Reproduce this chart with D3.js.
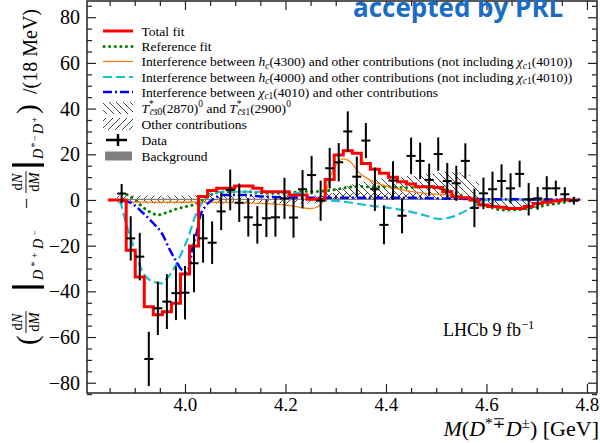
<!DOCTYPE html>
<html><head><meta charset="utf-8">
<script src="https://cdn.jsdelivr.net/npm/d3@7"></script>
<style>
body{margin:0;background:#fff;}
svg{display:block;}
text{font-family:"Liberation Serif","DejaVu Serif",serif;}
</style></head><body>
<svg id="chart" width="600" height="443"></svg>
<script>
// ---------------- data ----------------
const firstBinCenter = 3.874;   // GeV, first data bin
const binWidth = 0.018;         // 18 MeV
const dataValues = [2.8, -16.8, -24.8, -69.6, -47.4, -44.5, -40.8, -40.6, -27.7, -16.8,
  -18.7, -5.0, 4.4, -1.2, -7.6, -10.9, -8.0, -7.6, 0.7, -7.7,
  4.7, 10.9, -0.3, 13.9, 16.5, 30.0, 10.2, 26.0, 4.7, -10.9,
  8.5, -6.9, 19.3, 17.1, 8.8, 20.1, 8.3, 7.3, 17.1, -3.5,
  2.9, 4.7, 8.3, 5.1, 11.4, 0.3, 0.7, 5.1, 5.1, 2.5, -0.3];
const dataErrors = [4.2, 9.7, 10.4, 11.9, 11.7, 12.0, 11.8, 11.7, 12.7, 10.6,
  9.3, 8.2, 8.9, 8.4, 8.4, 8.2, 8.2, 8.5, 9.0, 8.8,
  8.4, 8.4, 8.8, 8.9, 8.4, 8.8, 8.8, 7.7, 9.5, 8.5,
  8.4, 7.7, 8.0, 8.0, 7.1, 7.3, 7.9, 7.7, 7.7, 8.4,
  6.9, 7.7, 7.3, 6.6, 5.8, 7.1, 5.0, 5.3, 3.4, 3.1, 1.7];

// total fit histogram (starts one bin before the first data bin)
const fitFirstCenter = 3.856;
const totalFit = [0,
  0, -22, -33.7, -46.7, -50.3, -48.9, -45.2, -32.4, -20.1, 1.5,
  4.1, 5.1, 5.1, 6.1, 6.1, 5.1, 3.6, 3.6, 3.6, 2.2,
  2.2, 0.3, 0.3, 9.0, 19.7, 21.6, 20.4, 16.0, 13.4, 11.7,
  9.9, 8.0, 7.0, 5.8, 5.8, 5.5, 3.6, 1.4, 1.0, 0,
  -2.2, -2.9, -3.2, -3.7, -3.7, -2.9, -1.5, -1.0, -0.4, 0, 0];

// reference fit, at the data bin centres
const referenceFit = [3, 1.5, -2, -5, -6.5, -5.5, -4, -3, -2, 0,
  2.5, 3.5, 3.6, 3.6, 3.6, 3.2, 2.9, 2.9, 3.0, 3.3,
  3.8, 3.6, 3.8, 4.2, 4.8, 5.5, 6.0, 5.8, 5.8, 5.8,
  5.7, 5.5, 5.5, 5.8, 6.0, 5.2, 4.2, 2.9, 1.0, -0.5,
  -2.2, -3.5, -4.4, -4.4, -4.2, -3.6, -3.0, -2.2, -1.6, -1.0, 0];

// interference h_c(4300)
const hc4300Mass = [3.865, 3.880, 3.950, 4.050, 4.150, 4.200, 4.230, 4.250, 4.262, 4.272, 4.280, 4.289, 4.300, 4.315, 4.330, 4.345, 4.360, 4.375, 4.410, 4.440, 4.480, 4.520, 4.560, 4.610, 4.700, 4.790];
const hc4300Val  = [0, -0.8, -1.0, -1.0, -1.5, -2.2, -3.2, -3.8, -3.2, -1.5, 3.0, 10.0, 15.0, 18.0, 16.5, 12.3, 9.8, 8.0, 5.5, 4.1, 2.9, 2.2, 1.2, 0.3, 0.0, 0.0];

// interference h_c(4000)
const hc4000Mass = [3.871, 3.881, 3.891, 3.904, 3.917, 3.937, 3.954, 3.967, 3.980, 3.993, 4.007, 4.020, 4.033, 4.046, 4.060, 4.076, 4.143, 4.229, 4.255, 4.314, 4.368, 4.408, 4.448, 4.478, 4.507, 4.533, 4.561, 4.581, 4.601, 4.687, 4.786];
const hc4000Val  = [0, -8.8, -16, -24.8, -32, -35.8, -36.5, -33.6, -29.2, -23.3, -16, -7.3, -1.5, 2.2, 3.2, 3.6, 3.6, 2.9, 0.3, -0.7, -2.5, -3.5, -5.1, -6.8, -8.3, -7.3, -4.5, -2.0, 0, 0, 0];

// interference chi_c1(4010)
const chi4010Mass = [3.877, 3.894, 3.917, 3.937, 3.954, 3.970, 3.983, 3.993, 4.002, 4.009, 4.014, 4.023, 4.030, 4.040, 4.050, 4.063, 4.076, 4.115, 4.163, 4.255, 4.428, 4.547, 4.627, 4.786];
const chi4010Val  = [0, -1.5, -5.8, -10.2, -14.6, -21.9, -27, -30.5, -31.5, -29, -22, -14.6, -7.3, -2.9, -0.7, 1.2, 2.2, 2.2, 1.4, 1.0, 1.0, 0.5, 0.3, 0.2];

// hatched contributions, at the data bin centres
const tcsValues = [-1.5, -1.5, -1.5, -1.5, -1.5, 2, 2, 2, 2, 2,
  2, 2, 2, 2, 2, 2, 2, 2, 2, 2,
  2, 2, 2, 3, 5, 6, 7, 8, 9, 9.5,
  10, 10, 10.5, 11, 11.5, 12, 12.4, 12, 11, 8,
  -1, -2, -3, -3.5, -3.5, -3, -2, -1, -0.5, 0, 0];
const otherValues = [2, 2, 2, 2, 2, -1.5, -1.5, -1.5, -1.5, -1.5,
  -1.5, -1.5, -1.5, -1.5, -1.5, -1.5, -1.5, -1.5, -1.5, -1.5,
  -1.5, -1.5, -1.5, 3, 3, 3, 3, 3, 3, 3,
  3, 3, 3, 3, 0.5, 0.5, 0.5, 0.5, 0.5, 0.5,
  0.5, 0.5, 0.5, 0.5, 0.5, 0.5, 0.5, 0.5, 0.5, 0.5, 0.5];
const backgroundValues = [0.4, 0.4, 0.5, 0.5, 0.5, 0.5, 0.5, 0.5, 0.5, 0.5,
  0.5, 0.5, 0.5, 0.5, 0.5, 0.5, 0.5, 0.5, 0.5, 0.5,
  0.5, 0.5, 0.5, 0.5, 0.5, 0.5, 0.5, 0.5, 0.5, 0.5,
  0.5, 0.5, 0.5, 0.5, 0.5, 0.5, 0.5, 0.5, 0.5, 0.5,
  0.5, 0.5, 0.5, 0.5, 0.5, 0.5, 0.5, 0.5, 0.4, 0.4, 0.4];

const xMajorTicks = [4.0, 4.2, 4.4, 4.6, 4.8];
const xMinorTicks = [3.85, 3.9, 3.95, 4.05, 4.1, 4.15, 4.25, 4.3, 4.35, 4.45, 4.5, 4.55, 4.65, 4.7, 4.75];
const yMajorTicks = [-80, -60, -40, -20, 0, 20, 40, 60, 80];
const yMinorTicks = [-85, -75, -70, -65, -55, -50, -45, -35, -30, -25, -15, -10, -5, 5, 10, 15, 25, 30, 35, 45, 50, 55, 65, 70, 75, 85];

// ---------------- layout ----------------
const svg = d3.select("#chart");
const L = 87, R = 597, T = 1, B = 393;
const x = d3.scaleLinear().domain([3.805, 4.820]).range([L, R]);
const y = d3.scaleLinear().domain([-84.5, 87.1]).range([B, T]);

const defs = svg.append("defs");
defs.append("clipPath").attr("id", "plotclip").append("rect")
  .attr("x", L).attr("y", T).attr("width", R - L).attr("height", B - T);
function hatch(id, d) {
  defs.append("pattern").attr("id", id).attr("patternUnits", "userSpaceOnUse")
    .attr("width", 7).attr("height", 7)
    .append("path").attr("d", d).attr("stroke", "#111").attr("stroke-width", 0.8).attr("fill", "none");
}
hatch("hBack", "M-1,-1 L8,8 M-1,6 L1,8 M6,-1 L8,1");
hatch("hSlash", "M-1,8 L8,-1 M-1,1 L1,-1 M6,8 L8,6");

const plot = svg.append("g").attr("clip-path", "url(#plotclip)");

function stepPts(vals, c0) {
  const pts = [];
  vals.forEach((v, i) => {
    const c = c0 + i * binWidth;
    pts.push([c - binWidth / 2, v], [c + binWidth / 2, v]);
  });
  return pts;
}
const stepLine = d3.line().x(d => x(d[0])).y(d => y(d[1]));
const stepArea = d3.area().x(d => x(d[0])).y0(y(0)).y1(d => y(d[1]));
const binCenters = dataValues.map((v, i) => firstBinCenter + i * binWidth);

// hatched areas
plot.append("path").attr("d", stepArea(stepPts(tcsValues, firstBinCenter))).attr("fill", "url(#hBack)");
plot.append("path").attr("d", stepArea(stepPts(otherValues, firstBinCenter))).attr("fill", "url(#hSlash)");
// background
plot.append("path").attr("d", stepArea(stepPts(backgroundValues, firstBinCenter))).attr("fill", "#808080");

const smooth = d3.line().x(d => x(d[0])).y(d => y(d[1])).curve(d3.curveMonotoneX);

// reference fit (green dotted)
plot.append("path").attr("d", smooth(binCenters.map((m, i) => [m, referenceFit[i]])))
  .attr("fill", "none").attr("stroke", "#008000").attr("stroke-width", 3)
  .attr("stroke-linecap", "round").attr("stroke-dasharray", "0.1,5.5");
// h_c(4300) orange
plot.append("path").attr("d", smooth(hc4300Mass.map((m, i) => [m, hc4300Val[i]])))
  .attr("fill", "none").attr("stroke", "#ff7f0e").attr("stroke-width", 1.3);
// h_c(4000) cyan dashed
plot.append("path").attr("d", smooth(hc4000Mass.map((m, i) => [m, hc4000Val[i]])))
  .attr("fill", "none").attr("stroke", "#17becf").attr("stroke-width", 2.2).attr("stroke-dasharray", "9,4");
// chi_c1(4010) blue dash-dot
plot.append("path").attr("d", smooth(chi4010Mass.map((m, i) => [m, chi4010Val[i]])))
  .attr("fill", "none").attr("stroke", "#0000ff").attr("stroke-width", 2.5).attr("stroke-dasharray", "9,3,2,3");
// total fit red step
plot.append("path").attr("d", stepLine(stepPts(totalFit, fitFirstCenter)))
  .attr("fill", "none").attr("stroke", "#ff0000").attr("stroke-width", 3);

// data points
const pts = plot.append("g").attr("stroke", "#000").attr("stroke-width", 2);
dataValues.forEach((v, i) => {
  const m = binCenters[i];
  pts.append("line").attr("x1", x(m)).attr("x2", x(m)).attr("y1", y(v - dataErrors[i])).attr("y2", y(v + dataErrors[i]));
  pts.append("line").attr("x1", x(m - binWidth / 2)).attr("x2", x(m + binWidth / 2)).attr("y1", y(v)).attr("y2", y(v));
});

// ---------------- axes ----------------
const axisColor = "#222";
function styleAxis(g, size) {
  g.select(".domain").remove();
  g.selectAll(".tick line").attr("stroke", axisColor).attr("stroke-width", 1.2);
  g.selectAll(".tick text").style("font-family", "'Liberation Serif', serif").style("font-size", size + "px").style("fill", "#000");
}
svg.append("g").attr("transform", `translate(0,${B})`)
  .call(d3.axisBottom(x).tickValues(xMajorTicks).tickSize(-9).tickPadding(5).tickFormat(d3.format(".1f"))).call(g => styleAxis(g, 19));
svg.append("g").attr("transform", `translate(0,${B})`)
  .call(d3.axisBottom(x).tickValues(xMinorTicks).tickSize(-5).tickFormat("")).call(g => styleAxis(g, 0));
svg.append("g").attr("transform", `translate(0,${T})`)
  .call(d3.axisTop(x).tickValues(xMajorTicks).tickSize(-9).tickFormat("")).call(g => styleAxis(g, 0));
svg.append("g").attr("transform", `translate(0,${T})`)
  .call(d3.axisTop(x).tickValues(xMinorTicks).tickSize(-5).tickFormat("")).call(g => styleAxis(g, 0));
svg.append("g").attr("transform", `translate(${L},0)`)
  .call(d3.axisLeft(y).tickValues(yMajorTicks).tickSize(-9).tickPadding(7).tickFormat(d3.format("d"))).call(g => styleAxis(g, 20));
svg.append("g").attr("transform", `translate(${L},0)`)
  .call(d3.axisLeft(y).tickValues(yMinorTicks).tickSize(-5).tickFormat("")).call(g => styleAxis(g, 0));
svg.append("g").attr("transform", `translate(${R},0)`)
  .call(d3.axisRight(y).tickValues(yMajorTicks).tickSize(-9).tickFormat("")).call(g => styleAxis(g, 0));
svg.append("g").attr("transform", `translate(${R},0)`)
  .call(d3.axisRight(y).tickValues(yMinorTicks).tickSize(-5).tickFormat("")).call(g => styleAxis(g, 0));
svg.append("rect").attr("x", L).attr("y", T).attr("width", R - L).attr("height", B - T)
  .attr("fill", "none").attr("stroke", axisColor).attr("stroke-width", 1.5);

// ---------------- rich text helper ----------------
function rich(parent, xPos, yPos, size, pieces, anchor) {
  const t = parent.append("text").attr("x", xPos).attr("y", yPos).attr("font-size", size).style("fill", "#000");
  if (anchor) t.attr("text-anchor", anchor);
  let cur = 0;
  pieces.forEach(p => {
    const shift = p.sub ? size * 0.22 : (p.sup ? -size * 0.38 : 0);
    const ts = t.append("tspan").text(p.t).attr("dy", shift - cur);
    cur = shift;
    if (p.sub || p.sup) ts.attr("font-size", size * 0.7);
    if (p.i) ts.attr("font-style", "italic");
    if (p.dx) ts.attr("dx", p.dx);
  });
  return t;
}

// ---------------- legend ----------------
const rows = [31, 46.5, 61.5, 77, 92, 108, 124, 140, 156];
const lg = svg.append("g");
const hx0 = 103, hx1 = 133, tx = 141.5, fs = 13.5;
lg.append("line").attr("x1", hx0).attr("x2", hx1).attr("y1", rows[0]).attr("y2", rows[0]).attr("stroke", "#ff0000").attr("stroke-width", 3);
lg.append("line").attr("x1", hx0 + 1).attr("x2", hx1).attr("y1", rows[1]).attr("y2", rows[1]).attr("stroke", "#008000").attr("stroke-width", 3).attr("stroke-linecap", "round").attr("stroke-dasharray", "0.1,5.5");
lg.append("line").attr("x1", hx0).attr("x2", hx1).attr("y1", rows[2]).attr("y2", rows[2]).attr("stroke", "#ff7f0e").attr("stroke-width", 1.3);
lg.append("line").attr("x1", hx0).attr("x2", hx1).attr("y1", rows[3]).attr("y2", rows[3]).attr("stroke", "#17becf").attr("stroke-width", 2.2).attr("stroke-dasharray", "9,4");
lg.append("line").attr("x1", hx0).attr("x2", hx1).attr("y1", rows[4]).attr("y2", rows[4]).attr("stroke", "#0000ff").attr("stroke-width", 2.5).attr("stroke-dasharray", "9,3,2,3");
lg.append("rect").attr("x", hx0).attr("y", rows[5] - 6).attr("width", 30).attr("height", 12).attr("fill", "url(#hBack)");
lg.append("rect").attr("x", hx0).attr("y", rows[6] - 6).attr("width", 30).attr("height", 12).attr("fill", "url(#hSlash)");
lg.append("line").attr("x1", hx0 + 3).attr("x2", hx1 - 6).attr("y1", rows[7]).attr("y2", rows[7]).attr("stroke", "#000").attr("stroke-width", 2.5);
lg.append("line").attr("x1", 118).attr("x2", 118).attr("y1", rows[7] - 6).attr("y2", rows[7] + 6).attr("stroke", "#000").attr("stroke-width", 2.5);
lg.append("rect").attr("x", hx0 + 2).attr("y", rows[8] - 4.5).attr("width", 27).attr("height", 9).attr("fill", "#808080");

const legendTexts = [
  [{t: "Total fit"}],
  [{t: "Reference fit"}],
  [{t: "Interference between "}, {t: "h", i: 1}, {t: "c", i: 1, sub: 1}, {t: "(4300) and other contributions (not including "}, {t: "χ", i: 1}, {t: "c", i: 1, sub: 1}, {t: "1", sub: 1}, {t: "(4010))"}],
  [{t: "Interference between "}, {t: "h", i: 1}, {t: "c", i: 1, sub: 1}, {t: "(4000) and other contributions (not including "}, {t: "χ", i: 1}, {t: "c", i: 1, sub: 1}, {t: "1", sub: 1}, {t: "(4010))"}],
  [{t: "Interference between "}, {t: "χ", i: 1}, {t: "c", i: 1, sub: 1}, {t: "1", sub: 1}, {t: "(4010) and other contributions"}],
  [{t: "T", i: 1}, {t: "*", sup: 1}, {t: "c̄s̄", i: 1, sub: 1, dx: -4}, {t: "0", sub: 1}, {t: "(2870)"}, {t: "0", sup: 1}, {t: " and "}, {t: "T", i: 1}, {t: "*", sup: 1}, {t: "c̄s̄", i: 1, sub: 1, dx: -4}, {t: "1", sub: 1}, {t: "(2900)"}, {t: "0", sup: 1}],
  [{t: "Other contributions"}],
  [{t: "Data"}],
  [{t: "Background"}]
];
legendTexts.forEach((p, i) => rich(lg, tx, rows[i] + 4.5, fs, p));

// ---------------- labels ----------------
rich(svg, 599, 436, 22, [{t: "M", i: 1}, {t: "("}, {t: "D", i: 1}, {t: "*∓", sup: 1}, {t: "D", i: 1}, {t: "±", sup: 1}, {t: ") [GeV]"}], "end");

rich(svg, 443, 336, 18, [{t: "LHCb 9 fb"}, {t: "−1", sup: 1}]);

svg.append("text").attr("x", 353).attr("y", 17)
  .style("font-family", "'Open Sans', sans-serif").style("font-weight", "bold")
  .style("font-size", "26px").style("fill", "#1a6cc4").text("accepted by PRL");

// y-axis label (rotated)
const yl = svg.append("g").attr("transform", "translate(0,345) rotate(-90)");
yl.append("text").attr("x", 0).attr("y", 37).attr("font-size", 29).style("fill", "#000").text("(");
function frac(cx) {
  rich(yl, cx, 22, 14.5, [{t: "d"}, {t: "N", i: 1}], "middle");
  rich(yl, cx, 39, 14.5, [{t: "d"}, {t: "M", i: 1}], "middle");
  yl.append("line").attr("x1", cx - 11).attr("x2", cx + 11).attr("y1", 26).attr("y2", 26).attr("stroke", "#000").attr("stroke-width", 0.9);
}
frac(23);
yl.append("line").attr("x1", 58).attr("x2", 58).attr("y1", 12).attr("y2", 44).attr("stroke", "#000").attr("stroke-width", 3.2);
rich(yl, 65, 43, 14, [{t: "D", i: 1}, {t: "*+", sup: 1}, {t: "D", i: 1}, {t: "−", sup: 1}]).attr("textLength", 50).attr("lengthAdjust", "spacing");
yl.append("text").attr("x", 136).attr("y", 33).attr("font-size", 20).style("fill", "#000").text("−");
frac(163);
yl.append("line").attr("x1", 180).attr("x2", 180).attr("y1", 12).attr("y2", 44).attr("stroke", "#000").attr("stroke-width", 3.2);
rich(yl, 186, 43, 14, [{t: "D", i: 1}, {t: "*−", sup: 1}, {t: "D", i: 1}, {t: "+", sup: 1}]).attr("textLength", 42).attr("lengthAdjust", "spacing");
yl.append("text").attr("x", 231).attr("y", 37).attr("font-size", 29).style("fill", "#000").text(")");
yl.append("text").attr("x", 251).attr("y", 37).attr("font-size", 20).style("fill", "#000").text("/(18 MeV)");
</script>
</body></html>
